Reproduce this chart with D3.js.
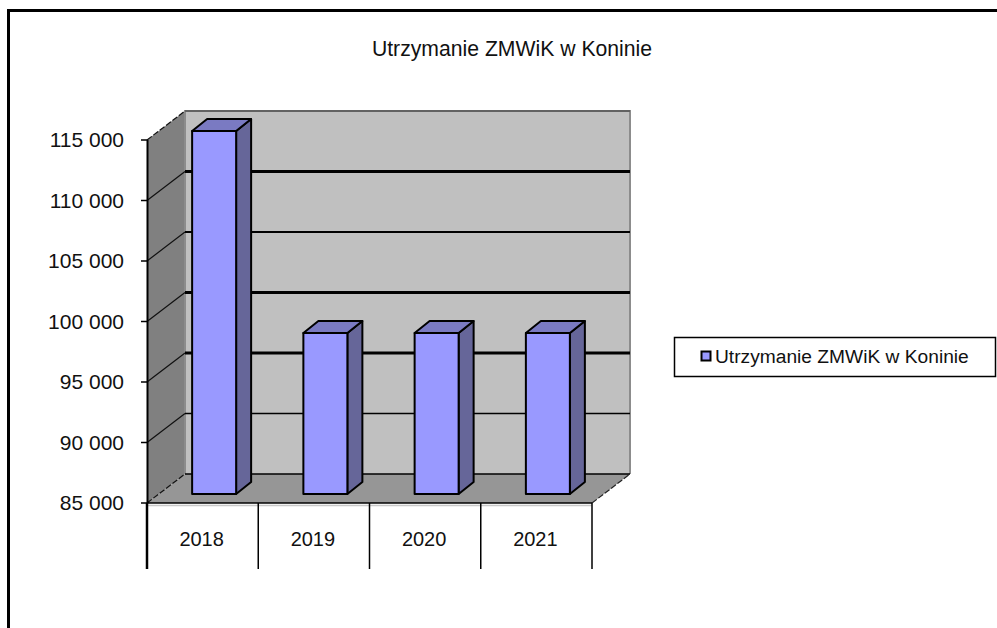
<!DOCTYPE html>
<html lang="pl">
<head>
    <meta charset="UTF-8">
    <title>Utrzymanie ZMWiK w Koninie</title>
    <script src="https://d3js.org/d3.v7.min.js"></script>
    <style>
        html, body { margin: 0; padding: 0; background: #fff; }
        svg { display: block; }
        text { font-family: "Liberation Sans", Arial, sans-serif; fill: #111; }
        .title { font-size: 21.2px; text-anchor: middle; }
        .tick-label { font-size: 21px; text-anchor: end; }
        .cat-label { font-size: 20px; text-anchor: middle; }
        .legend-label { font-size: 19.2px; }
    </style>
</head>
<body>
    <svg width="997" height="628"></svg>
    <script>
        const categories = ["2018", "2019", "2020", "2021"];
        const values = [115000, 98300, 98300, 98300];
        const yTicks = [85000, 90000, 95000, 100000, 105000, 110000, 115000];
        const seriesName = "Utrzymanie ZMWiK w Koninie";

        const width = 997, height = 628;
        const svg = d3.select("svg");
        const fmt = d => d3.format(",")(d).replace(",", " ");

        // oblique depth of the plot box and of the bars
        const depth = {x: 38, y: -29};
        const barDepth = {x: 15, y: -12};
        const barShift = {x: 11.5, y: -9};
        const barWidth = 44;

        // the source image has uneven line weights after its resize
        const gridWeight = {85000: 1.5, 90000: 1.5, 95000: 3, 100000: 3, 105000: 2, 110000: 3, 115000: 1.5};

        const x = d3.scaleBand().domain(categories).range([147, 592]);
        const y = d3.scaleLinear().domain([85000, 115000]).range([503, 140]);
        const line = d3.line();

        // outer frame, only top and left edges are visible
        svg.append("path")
            .attr("d", line([[8.5, height], [8.5, 10.5], [width, 10.5]]))
            .attr("fill", "none").attr("stroke", "#000").attr("stroke-width", 3);

        svg.append("text").attr("class", "title")
            .attr("x", 512).attr("y", 56).text(seriesName);

        const x0 = x.range()[0], x1 = x.range()[1];
        const yBase = y(85000), yTop = y(115000);

        // side wall
        svg.append("path")
            .attr("d", line([[x0, yBase], [x0 + depth.x, yBase + depth.y], [x0 + depth.x, yTop + depth.y], [x0, yTop]]) + "Z")
            .attr("fill", "#808080");
        // back wall
        svg.append("rect")
            .attr("x", x0 + depth.x).attr("y", yTop + depth.y)
            .attr("width", x1 - x0).attr("height", yBase - yTop)
            .attr("fill", "#c0c0c0");
        svg.append("path")
            .attr("d", line([[x0 + depth.x, yBase + depth.y], [x0 + depth.x, yTop + depth.y], [x1 + depth.x, yTop + depth.y], [x1 + depth.x, yBase + depth.y]]))
            .attr("fill", "none").attr("stroke", "#8c8c8c").attr("stroke-width", 2);
        // floor
        svg.append("path")
            .attr("d", line([[x0, yBase], [x0 + depth.x, yBase + depth.y], [x1 + depth.x, yBase + depth.y], [x1, yBase]]) + "Z")
            .attr("fill", "#969696");
        svg.append("path")
            .attr("d", line([[x1, yBase], [x1 + depth.x, yBase + depth.y]]))
            .attr("stroke", "#222").attr("stroke-width", 1.2).attr("stroke-dasharray", "6 2");
        // pale strip left under the front edge of the floor
        svg.append("line")
            .attr("x1", x0).attr("x2", x1).attr("y1", yBase + 2.5).attr("y2", yBase + 2.5)
            .attr("stroke", "#c8c8c8").attr("stroke-width", 1.5);

        // gridlines: thin on the side wall, uneven on the back wall
        const grid = svg.append("g").selectAll("g")
            .data(yTicks)
            .enter().append("g")
            .attr("fill", "none");
        grid.append("path")
            .attr("d", d => line([[x0, y(d)], [x0 + depth.x, y(d) + depth.y]]))
            .attr("stroke", "#111").attr("stroke-width", 1.2)
            .attr("stroke-dasharray", d => d === 85000 || d === 115000 ? "6 2" : null);
        grid.append("path")
            .attr("d", d => line([[x0 + depth.x, y(d) + depth.y], [x1 + depth.x, y(d) + depth.y]]))
            .attr("stroke", d => d === 115000 ? "#555" : "#000")
            .attr("stroke-width", d => gridWeight[d]);

        // y axis with ticks
        const yAxis = svg.append("g");
        yAxis.append("line")
            .attr("x1", x0 + 0.5).attr("x2", x0 + 0.5).attr("y1", yTop).attr("y2", yBase)
            .attr("stroke", "#000").attr("stroke-width", 2);
        yAxis.selectAll("line.tick").data(yTicks).enter().append("line")
            .attr("class", "tick")
            .attr("x1", x0 - 6).attr("x2", x0).attr("y1", d => y(d)).attr("y2", d => y(d))
            .attr("stroke", "#000").attr("stroke-width", 1.5);
        yAxis.selectAll("text").data(yTicks).enter().append("text")
            .attr("class", "tick-label")
            .attr("x", 124).attr("y", d => y(d) + 7)
            .text(fmt);

        // x axis with category separators running down below the plot
        const xAxis = svg.append("g");
        xAxis.append("line")
            .attr("x1", x0).attr("x2", x1).attr("y1", yBase).attr("y2", yBase)
            .attr("stroke", "#000").attr("stroke-width", 1.5);
        xAxis.selectAll("line.sep")
            .data(categories.concat("end"))
            .enter().append("line")
            .attr("class", "sep")
            .attr("x1", d => d === "end" ? x1 : x(d))
            .attr("x2", d => d === "end" ? x1 : x(d))
            .attr("y1", yBase).attr("y2", 569)
            .attr("stroke", "#000").attr("stroke-width", (d, i) => i === 0 ? 2.5 : 1.5);
        xAxis.selectAll("text").data(categories).enter().append("text")
            .attr("class", "cat-label")
            .attr("x", d => x(d) + x.bandwidth() / 2 - 1)
            .attr("y", 546)
            .text(d => d);

        // bars
        const bars = svg.append("g").selectAll("g")
            .data(categories.map((c, i) => ({c, v: values[i]})))
            .enter().append("g")
            .attr("stroke", "#000").attr("stroke-width", 2).attr("stroke-linejoin", "round");
        const bx = d => x(d.c) + (x.bandwidth() - barWidth) / 2 + barShift.x;
        const bt = d => y(d.v) + barShift.y;
        const bb = () => yBase + barShift.y;

        bars.append("path").attr("fill", "#666699")
            .attr("d", d => line([[bx(d) + barWidth, bt(d)], [bx(d) + barWidth + barDepth.x, bt(d) + barDepth.y], [bx(d) + barWidth + barDepth.x, bb() + barDepth.y], [bx(d) + barWidth, bb()]]) + "Z");
        bars.append("path").attr("fill", "#7a7ac2")
            .attr("d", d => line([[bx(d), bt(d)], [bx(d) + barDepth.x, bt(d) + barDepth.y], [bx(d) + barWidth + barDepth.x, bt(d) + barDepth.y], [bx(d) + barWidth, bt(d)]]) + "Z");
        bars.append("rect").attr("fill", "#9999ff")
            .attr("x", bx).attr("y", bt)
            .attr("width", barWidth).attr("height", d => bb() - bt(d));

        // legend
        const legend = svg.append("g");
        legend.append("rect")
            .attr("x", 674.5).attr("y", 337.5).attr("width", 321).attr("height", 39)
            .attr("fill", "#fff").attr("stroke", "#000").attr("stroke-width", 1.5);
        legend.append("rect")
            .attr("x", 701.5).attr("y", 351.5).attr("width", 9).attr("height", 9)
            .attr("fill", "#9999ff").attr("stroke", "#000").attr("stroke-width", 2);
        legend.append("text").attr("class", "legend-label")
            .attr("x", 715).attr("y", 363).text(seriesName);
    </script>
</body>
</html>
